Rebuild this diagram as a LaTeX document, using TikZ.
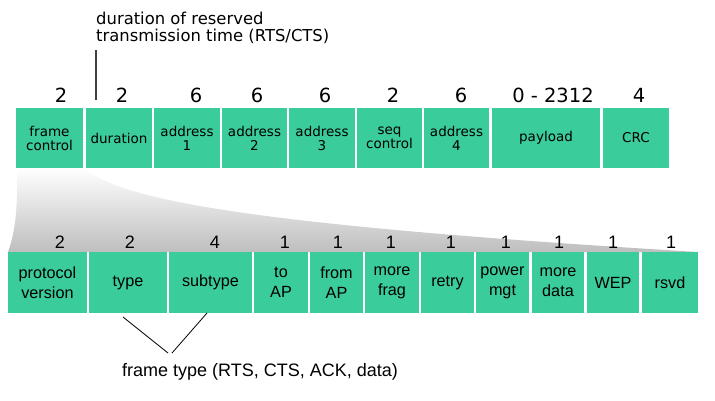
\documentclass[tikz,border=0pt]{standalone}
\usepackage{fontspec}
\usepackage{xcolor}
\setmainfont{DejaVu Sans}
\newfontfamily\arialfont{Liberation Sans}
\definecolor{fieldgreen}{RGB}{59,204,155}
\definecolor{shadegray}{RGB}{190,190,190}

\begin{document}
\begin{tikzpicture}[x=1pt,y=-1pt,
        field/.style={fill=fieldgreen, inner sep=0pt, align=center, minimum height=60pt,
            font=\fontsize{13.5}{14}\selectfont},
        subfield/.style={fill=fieldgreen, inner sep=0pt, align=center, minimum height=61pt,
            font=\arialfont\fontsize{16.2}{20}\selectfont},
        fieldsize/.style={inner sep=0pt, font=\fontsize{19.5}{20}\selectfont},
        subsize/.style={inner sep=0pt, font=\arialfont\fontsize{18}{18}\selectfont}]
    \useasboundingbox (0,0) rectangle (715,401);

    % zoom wedge from frame control down to its bits
    \shade[top color=white, bottom color=shadegray]
        (17,168) -- (85,168) .. controls (120,200) and (250,225) .. (698,252)
        -- (8,252) .. controls (14,235) and (18,215) .. (17,168) -- cycle;

    % 802.11 frame fields
    \node[field, minimum width=67pt] (fc) at (49.5,138) {frame\\control};
    \node[field, minimum width=66pt] (dur) at (119,138) {duration};
    \node[field, minimum width=66pt] (addra) at (187,138) {address\\1};
    \node[field, minimum width=65pt] (addrb) at (254.5,138) {address\\2};
    \node[field, minimum width=66pt] (addrc) at (322,138) {address\\3};
    \node[field, minimum width=65pt] (seq) at (389.5,138) {seq\\control};
    \node[field, minimum width=65pt] (addrd) at (456.5,138) {address\\4};
    \node[field, minimum width=108pt] (pay) at (546,138) {payload};
    \node[field, minimum width=66pt] (crc) at (636,138) {CRC};

    % field lengths (bytes)
    \node[fieldsize] (wfc) at (61,95) {2};
    \node[fieldsize] (wdur) at (122,95) {2};
    \node[fieldsize] (waddra) at (196,95) {6};
    \node[fieldsize] (waddrb) at (257,95) {6};
    \node[fieldsize] (waddrc) at (325,95) {6};
    \node[fieldsize] (wseq) at (393,95) {2};
    \node[fieldsize] (waddrd) at (461,95) {6};
    \node[fieldsize] (wpay) at (553,95) {0 - 2312};
    \node[fieldsize] (wcrc) at (639,95) {4};

    % duration note
    \node[anchor=north west, align=left, inner sep=0pt, font=\fontsize{16.4}{17}\selectfont]
        (durnote) at (96,11.5) {duration of reserved\\transmission time (RTS/CTS)};
    \coordinate (durtop) at (96,50);
    \coordinate (durfoot) at (96,100);
    \draw[line width=1.3pt, black!75] (durtop) -- (durfoot);

    % frame control bits
    \node[subfield, minimum width=79pt] (pv) at (47.5,282.5) {protocol\\version};
    \node[subfield, minimum width=78pt] (type) at (128,282.5) {type};
    \node[subfield, minimum width=83pt] (subtype) at (210.5,282.5) {subtype};
    \node[subfield, minimum width=54pt] (toap) at (281,282.5) {to\\AP};
    \node[subfield, minimum width=53pt] (fromap) at (336.5,282.5) {from\\AP};
    \node[subfield, minimum width=54pt] (frag) at (392,282.5) {more\\frag};
    \node[subfield, minimum width=53pt] (retry) at (447.5,282.5) {retry};
    \node[subfield, minimum width=53pt] (pwr) at (502.5,282.5) {power\\mgt};
    \node[subfield, minimum width=52pt] (mdata) at (558,282.5) {more\\data};
    \node[subfield, minimum width=52pt] (wep) at (613,282.5) {WEP};
    \node[subfield, minimum width=56pt] (rsvd) at (670,282.5) {rsvd};

    % bit lengths
    \node[subsize] (bpv) at (60,242) {2};
    \node[subsize] (btype) at (130,242) {2};
    \node[subsize] (bsub) at (215,242) {4};
    \node[subsize] (btoap) at (285,242) {1};
    \node[subsize] (bfromap) at (338,242) {1};
    \node[subsize] (bfrag) at (391,242) {1};
    \node[subsize] (bretry) at (451,242) {1};
    \node[subsize] (bpwr) at (506,242) {1};
    \node[subsize] (bmdata) at (559,242) {1};
    \node[subsize] (bwep) at (613,242) {1};
    \node[subsize] (brsvd) at (671,242) {1};

    % frame type note
    \node[anchor=base west, inner sep=0pt, font=\arialfont\fontsize{18}{20}\selectfont]
        (ftnote) at (122,376) {frame type (RTS, CTS, ACK, data)};
    \coordinate (typetip) at (123,317);
    \coordinate (subtip) at (207,313);
    \coordinate (ftleft) at (168,353);
    \coordinate (ftright) at (172,353);
    \draw[thick] (typetip) -- (ftleft);
    \draw[thick] (subtip) -- (ftright);
\end{tikzpicture}
\end{document}
